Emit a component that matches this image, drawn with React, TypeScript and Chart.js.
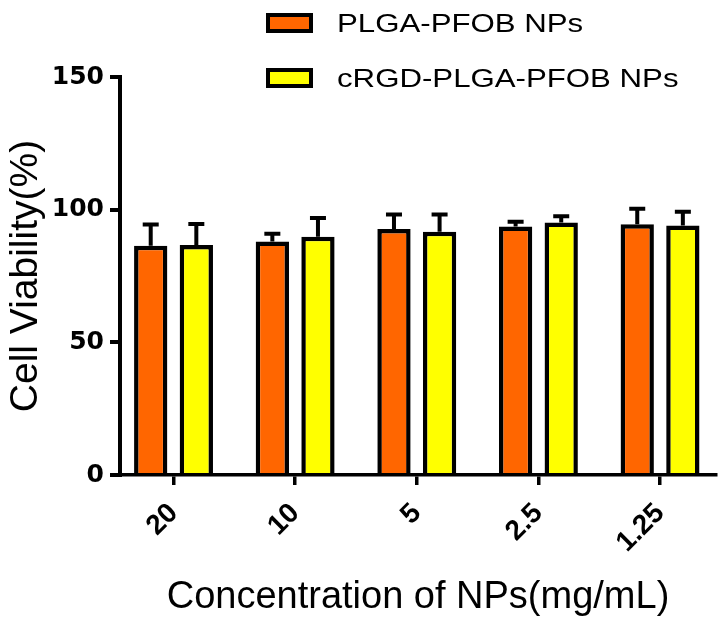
import React, { useEffect, useRef } from 'react';
import { Chart, registerables } from 'chart.js';

Chart.register(...registerables);

// ---- data ----
const categories = ['20', '10', '5', '2.5', '1.25'];
const seriesLabels = ['PLGA-PFOB NPs', 'cRGD-PLGA-PFOB NPs'];
const plgaValues = [86.4, 88.0, 92.7, 93.7, 94.5];
const plgaErrors = [8.0, 2.9, 5.5, 1.7, 5.8];
const rgdValues = [86.7, 89.8, 91.7, 95.2, 94.0];
const rgdErrors = [7.9, 7.1, 6.5, 2.3, 5.2];
const yTicks = [0, 50, 100, 150];
const xTitle = 'Concentration of NPs(mg/mL)';
const yTitle = 'Cell Viability(%)';

const ARIAL = "'Liberation Sans', Arial, sans-serif";
const DEJAVU = "'DejaVu Sans', sans-serif";

const errorBarPlugin = {
  id: 'errorBars',
  afterDatasetsDraw(chart: any) {
    const ctx = chart.ctx;
    const yScale = chart.scales.y;
    chart.data.datasets.forEach((ds: any, di: number) => {
      const meta = chart.getDatasetMeta(di);
      meta.data.forEach((bar: any, i: number) => {
        const v = ds.data[i].y;
        const e = ds.errors[i];
        const yTop = yScale.getPixelForValue(v + e);
        const yBase = yScale.getPixelForValue(v);
        ctx.save();
        ctx.strokeStyle = '#000';
        ctx.lineWidth = 4;
        ctx.beginPath();
        ctx.moveTo(bar.x, yBase);
        ctx.lineTo(bar.x, yTop);
        ctx.moveTo(bar.x - 8, yTop);
        ctx.lineTo(bar.x + 8, yTop);
        ctx.stroke();
        ctx.restore();
      });
    });
  },
};

const legendPlugin = {
  id: 'customLegend',
  afterDraw(chart: any) {
    const ctx = chart.ctx;
    chart.data.datasets.forEach((ds: any, i: number) => {
      const top = 13 + i * 55;
      ctx.save();
      ctx.fillStyle = ds.backgroundColor;
      ctx.fillRect(266, top, 47, 20);
      ctx.lineWidth = 4;
      ctx.strokeStyle = '#000';
      ctx.strokeRect(268, top + 2, 43, 16);
      ctx.translate(337, top + 18.6);
      ctx.scale(1.2, 1);
      ctx.font = `26px ${ARIAL}`;
      ctx.fillStyle = '#000';
      ctx.textBaseline = 'alphabetic';
      ctx.textAlign = 'left';
      ctx.fillText(ds.label, 0, 0);
      ctx.restore();
    });
  },
};

export default function App() {
  const canvasRef = useRef<HTMLCanvasElement | null>(null);

  useEffect(() => {
    if (!canvasRef.current) return;
    const chart = new Chart(canvasRef.current, {
      type: 'bar',
      data: {
        datasets: [
          {
            label: seriesLabels[0],
            data: plgaValues.map((y, i) => ({ x: i, y })),
            backgroundColor: '#FF6600',
            borderColor: '#000000',
            borderWidth: 4.5,
            borderSkipped: 'start',
            categoryPercentage: 0.75,
            barPercentage: 0.73,
            errors: plgaErrors,
          } as any,
          {
            label: seriesLabels[1],
            data: rgdValues.map((y, i) => ({ x: i, y })),
            backgroundColor: '#FFFF00',
            borderColor: '#000000',
            borderWidth: 4.5,
            borderSkipped: 'start',
            categoryPercentage: 0.75,
            barPercentage: 0.73,
            errors: rgdErrors,
          } as any,
        ],
      },
      options: {
        animation: false,
        responsive: false,
        devicePixelRatio: 1,
        layout: { padding: { top: 77, right: 9, bottom: 0, left: 0 } },
        plugins: {
          legend: { display: false },
          tooltip: { enabled: false },
          title: { display: false },
        },
        scales: {
          x: {
            type: 'linear',
            min: -0.44,
            max: 4.46,
            offset: false,
            afterBuildTicks: (s: any) => {
              s.ticks = categories.map((_, i) => ({ value: i }));
            },
            afterFit: (s: any) => {
              s.height = 154;
            },
            ticks: {
              autoSkip: false,
              minRotation: 45,
              maxRotation: 45,
              padding: 12,
              color: '#000',
              font: { family: ARIAL, size: 28, weight: 'bold' },
              callback: (_v: any, index: number) => categories[index],
            },
            grid: {
              display: true,
              offset: false,
              drawOnChartArea: false,
              drawTicks: true,
              tickLength: 10,
              tickWidth: 3.5,
              tickColor: '#000',
              color: '#000',
              lineWidth: 3.5,
            },
            border: { display: true, color: '#000', width: 3.5 },
            title: {
              display: true,
              text: xTitle,
              color: '#000',
              font: { family: ARIAL, size: 38 },
              padding: { top: 0, bottom: 9 },
            },
          } as any,
          y: {
            type: 'linear',
            min: 0,
            max: 150,
            afterBuildTicks: (s: any) => {
              s.ticks = yTicks.map((v) => ({ value: v }));
            },
            afterFit: (s: any) => {
              s.width = 120;
            },
            ticks: {
              padding: 6,
              color: '#000',
              font: { family: DEJAVU, size: 25, weight: 'bold' },
            },
            grid: {
              display: true,
              drawOnChartArea: false,
              drawTicks: true,
              tickLength: 10,
              tickWidth: 4,
              tickColor: '#000',
              color: '#000',
              lineWidth: 4,
            },
            border: { display: true, color: '#000', width: 4 },
            title: {
              display: true,
              text: yTitle,
              color: '#000',
              font: { family: ARIAL, size: 39 },
              padding: { top: 3, bottom: 0 },
            },
          } as any,
        },
      },
      plugins: [errorBarPlugin, legendPlugin],
    } as any);
    return () => chart.destroy();
  }, []);

  return (
    <div style={{ position: 'fixed', left: 0, top: 0, width: 725, height: 629, background: '#fff' }}>
      <canvas ref={canvasRef} width={725} height={629} style={{ display: 'block' }} />
    </div>
  );
}
